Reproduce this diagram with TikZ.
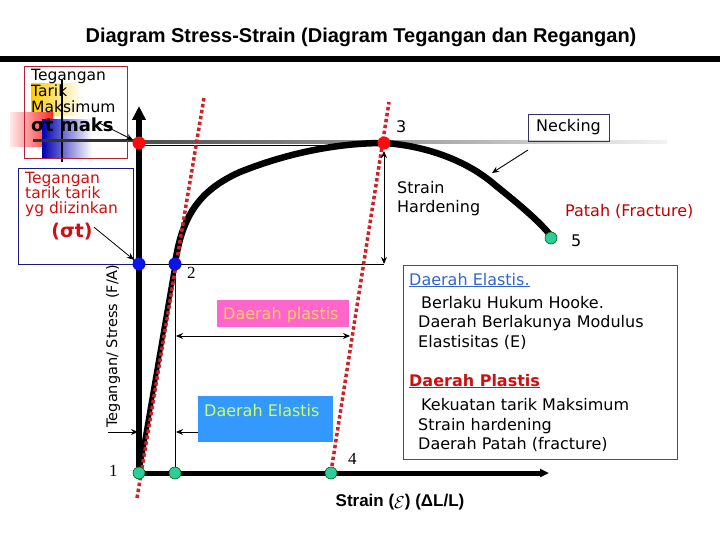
\documentclass[tikz,border=0pt]{standalone}
\usepackage{fontspec}
\setmainfont{DejaVu Sans}
\newfontfamily\arialf{Liberation Sans}
\newfontfamily\serf{Liberation Serif}
\usetikzlibrary{arrows.meta,shadings}
\newcommand\fsz[1]{\fontsize{#1}{#1}\selectfont}
\definecolor{dotred}{HTML}{CC2229}
\definecolor{ptred}{HTML}{FF0A0A}
\definecolor{ptblue}{HTML}{0A14E6}
\definecolor{ptgreen}{HTML}{2ECC9A}
\definecolor{boxred}{HTML}{B22234}
\definecolor{boxblue}{HTML}{1A1A80}
\definecolor{txtred}{HTML}{CC1111}
\definecolor{pinkbox}{HTML}{FF66CC}
\definecolor{pinktxt}{HTML}{FFCC66}
\definecolor{bluebox}{HTML}{3399FF}
\definecolor{bluetxt}{HTML}{CCFF66}
\definecolor{linkblue}{HTML}{3366CC}
\definecolor{fracred}{HTML}{C00000}
\definecolor{neckbd}{HTML}{333366}
\begin{document}
\begin{tikzpicture}[x=1pt,y=-1pt,
  lbl/.style={inner sep=0pt, anchor=base west},
  txt/.style={lbl, font=\fsz{16}},
  dotline/.style={dotred, line width=3.5pt, dash pattern=on 3.5pt off 2.5pt},
  thinarrow/.style={black, line width=0.9pt, -{Stealth[length=7pt,width=6pt]}},
  reddot/.style={circle, fill=ptred, inner sep=0pt, minimum size=13pt},
  bluedot/.style={circle, fill=ptblue, inner sep=0pt, minimum size=13pt},
  greendot/.style={circle, fill=ptgreen, draw=black!60!green, line width=0.6pt, inner sep=0pt, minimum size=12pt},
  numlbl/.style={lbl, font=\serf\fsz{17}}
]
\useasboundingbox (0,0) rectangle (720,540);
\fill[white] (0,0) rectangle (720,540);

% title
\node[font=\arialf\bfseries\fsz{20}, anchor=base, inner sep=0pt] (title) at (361,43) {Diagram Stress-Strain (Diagram Tegangan dan Regangan)};
\draw[line width=5.5pt] (0,59) -- (720,59);

% logo
\shade[left color=orange!40!yellow, right color=white] (31,84) rectangle (82,116);
\shade[left color=red!8, right color=red!85] (10,113) rectangle (53,147);
\shade[left color=blue!70!black, right color=white] (42,120) rectangle (92,158);
\draw[line width=2pt] (62,80) -- (62,162);
\draw[line width=3pt, black!80] (33,141) -- (139,141);

% gray line and frame lines
\shade[left color=black!70, right color=black!5] (139,140.5) rectangle (667,143.5);
\draw[line width=0.8pt] (139,145) -- (384,145);
\draw[line width=0.8pt] (139,264) -- (384,264);
\draw[line width=0.8pt] (175,264) -- (175,473);

% box 1
\node[txt, font=\fsz{15.5}] (m1) at (31,81) {Tegangan};
\node[txt, font=\fsz{15.5}] (m2) at (31,97) {Tarik};
\node[txt, font=\fsz{15.5}] (m3) at (31,113) {Maksimum};
\node[lbl, font=\bfseries\fsz{18}] (m4) at (31,132) {σt maks};
\draw[boxred, line width=0.8pt] (24,66) rectangle (127,158);

% box 2
\draw[boxblue, line width=0.8pt] (18,168) rectangle (133,264);
\node[txt, font=\fsz{15.5}, text=txtred] (d1) at (25,184) {Tegangan};
\node[txt, font=\fsz{15.5}, text=txtred] (d2) at (25,199) {tarik tarik};
\node[txt, font=\fsz{15.5}, text=txtred] (d3) at (25,214) {yg diizinkan};
\node[font=\bfseries\fsz{19}, text=txtred, anchor=base, inner sep=0pt] (d4) at (72,237) {(σt)};

% axes
\draw[line width=5.5pt, -{Triangle[width=13pt,length=14pt]}] (139,475) -- (139,106);
\draw[line width=5pt, -{Triangle[width=8pt,length=9pt]}] (137,473) -- (549,473);

% curve
\draw[line width=5pt] (139,473) -- (175,264);
\draw[line width=6.5pt, line cap=round] (175,264) .. controls (182,215) and (200,190) .. (240,172)
  .. controls (290,152) and (340,143) .. (384,143)
  .. controls (430,146) and (470,163) .. (495,185)
  .. controls (520,205) and (540,222) .. (551,236);

% red dotted lines
\draw[dotline] (137,498) -- (204,98);
\draw[dotline] (331,472) -- (389,102);

% arrows
\draw[thinarrow, {Stealth[length=7pt,width=6pt]}-{Stealth[length=7pt,width=6pt]}] (384,151) -- (384,264);
\draw[thinarrow, {Stealth[length=7pt,width=6pt]}-{Stealth[length=7pt,width=6pt]}] (176,336) -- (350,336);
\draw[thinarrow] (108,432) -- (138,432);
\draw[thinarrow] (198,432) -- (176,432);

% dots
\node[reddot] (p0) at (139,143) {};
\node[reddot] (p3) at (384,143) {};
\node[bluedot] (b0) at (139,264) {};
\node[bluedot] (p2) at (175,264) {};
\node[greendot] (p1) at (139,473) {};
\node[greendot] (g2) at (175,473) {};
\node[greendot] (p4) at (331,473) {};
\node[greendot] (p5) at (551,238) {};

\draw[thinarrow, line width=0.8pt] (m4.east) ++(-14,-2) -- (p0);
\draw[thinarrow, line width=0.8pt] (d4.east) ++(1,-4) -- (b0);

% number labels
\node[numlbl] (n1) at (109,476) {1};
\node[numlbl] (n2) at (187,278) {2};
\node[lbl, font=\fsz{16}] (n3) at (396,133) {3};
\node[numlbl] (n4) at (348,464) {4};
\node[lbl, font=\fsz{16}] (n5) at (571,247) {5};

% necking
\node[draw=neckbd, line width=0.8pt, font=\fsz{16}, minimum width=81pt, minimum height=27pt, inner sep=0pt] (neck) at (568.5,127.5) {Necking};
\draw[thinarrow] (528,150) -- (492,173);

\node[txt] (sh1) at (397,194) {Strain};
\node[txt] (sh2) at (397,213) {Hardening};
\node[txt, text=fracred] (fr) at (565,217) {Patah (Fracture)};

% region boxes
\node[fill=pinkbox, minimum width=132pt, minimum height=27pt, inner sep=0pt] (pl) at (283,313.5) {};
\node[lbl, font=\fsz{16}, text=pinktxt] (plt) at (223,319) {Daerah plastis};
\node[fill=bluebox, minimum width=135pt, minimum height=46pt, inner sep=0pt] (el) at (265.5,419) {};
\node[lbl, font=\fsz{16}, text=bluetxt] (elt) at (204,416) {Daerah Elastis};

% axis labels
\node[font=\fsz{14.5}, rotate=90, anchor=base, inner sep=0pt] (ylab) at (117,346) {Tegangan/ Stress (F/A)};
\node[font=\arialf\bfseries\fsz{17}, anchor=base, inner sep=0pt] (xlab) at (400,506) {Strain (\raisebox{-2pt}{$\mathcal{E}$}) (ΔL/L)};

% right box
\draw[boxred, line width=0.8pt, fill=white] (403,265) rectangle (677,459);
\node[txt, text=linkblue] (r1) at (409,285) {\underline{Daerah Elastis.}};
\node[txt] (r2) at (421,308) {Berlaku Hukum Hooke.};
\node[txt] (r3) at (418,327) {Daerah Berlakunya Modulus};
\node[txt] (r4) at (418,347) {Elastisitas (E)};
\node[txt, font=\bfseries\fsz{16}, text=txtred] (r5) at (409,386) {\underline{Daerah Plastis}};
\node[txt] (r6) at (421,410) {Kekuatan tarik Maksimum};
\node[txt] (r7) at (418,430) {Strain hardening};
\node[txt] (r8) at (418,449) {Daerah Patah (fracture)};
\end{tikzpicture}
\end{document}
